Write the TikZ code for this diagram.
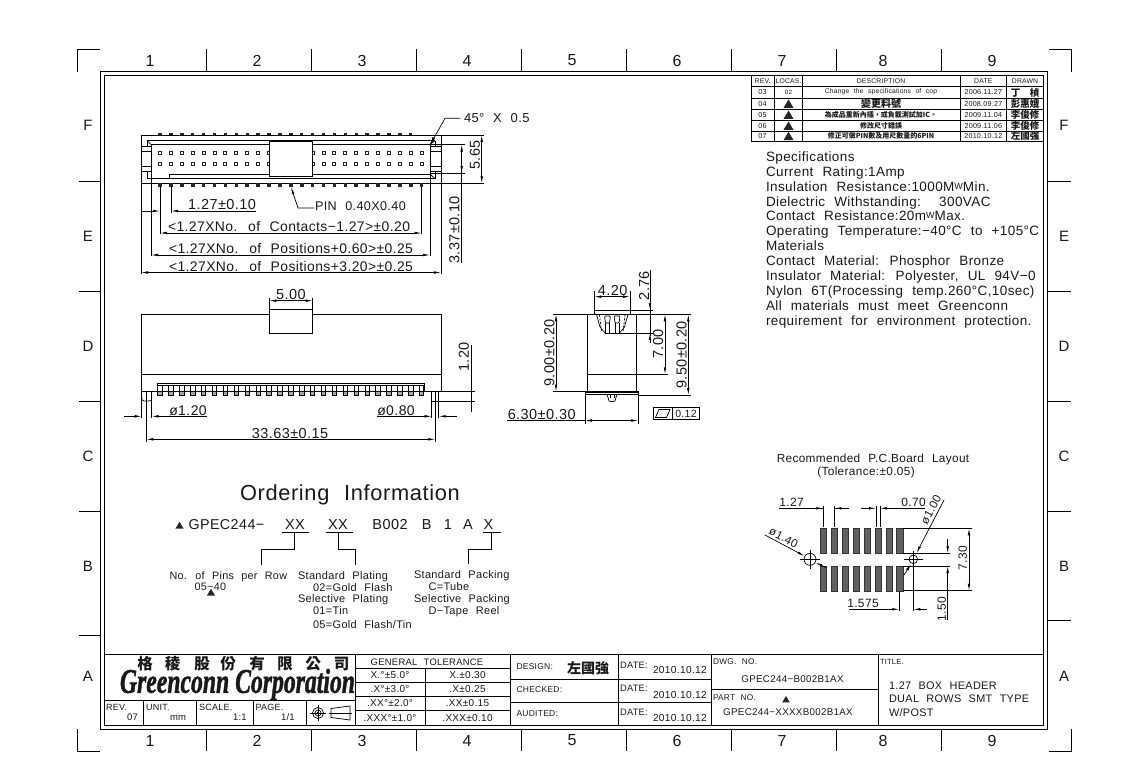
\documentclass[tikz,border=0pt]{standalone}
\usepackage{fontspec}
\usetikzlibrary{arrows.meta}
\setmainfont{Liberation Sans}[LetterSpace=3,WordSpace=2.2]
\newfontfamily\cjk{Noto Sans CJK TC}
\newfontfamily\logofont{Liberation Serif}[BoldItalicFeatures={FakeBold=1.5}]
\newcommand\FS[1]{\fontsize{#1}{#1}\selectfont}
\tikzset{
 tx/.style={inner sep=0pt,outer sep=0pt,text=black!90},
 lft/.style={tx,anchor=west},
 lfb/.style={tx,anchor=base west},
 rot/.style={tx,rotate=90},
 ln/.style={line width=.7pt,black},
 fr/.style={line width=.9pt,black},
 ar/.style={ln,-{Latex[length=7pt,width=2.6pt]}},
 ra/.style={ln,{Latex[length=7pt,width=2.6pt]}-},
 both/.style={ln,{Latex[length=7pt,width=2.6pt]}-{Latex[length=7pt,width=2.6pt]}},
 pad/.style={fill=black!62,draw=black!80,line width=.3pt}
}
\newcommand\Tri[3][6]{\fill[black!85] ({#2-#1*.55},{#3+#1*.42}) -- (#2,{#3-#1*.5}) -- ({#2+#1*.55},{#3+#1*.42}) -- cycle;}
\newcommand\Wsym{\raisebox{2.5pt}{\FS{9}W}}
\begin{document}
\begin{tikzpicture}[x=1pt,y=-1pt]
\useasboundingbox (0,0) rectangle (1124,779);
\fill[white] (0,0) rectangle (1124,779);
% frame
\draw[fr] (100.3,71.7) rectangle (1047,729);
\draw[fr] (104.3,75) rectangle (1043,725);
\draw[fr] (99.5,49.3) -- (77.3,49.3) -- (77.3,71.7);
\draw[fr] (1049,49.3) -- (1071,49.3) -- (1071,71.7);
\draw[fr] (77.3,729) -- (77.3,751) -- (99.5,751);
\draw[fr] (1071,729) -- (1071,751) -- (1049,751);
\foreach \x in {206.7,311.7,416.7,521.7,626.7,731.7,836.7,941.7}{
 \draw[ln] (\x,49.3) -- (\x,71.7); \draw[ln] (\x,729) -- (\x,751);}
\foreach \y in {181,291,401,511,635}{\draw[ln] (79,\y) -- (100.3,\y);}
\foreach \y in {181,291,401,511,620}{\draw[ln] (1047,\y) -- (1071,\y);}
\foreach \n/\x in {1/150,2/257,3/362,4/467,5/572,6/677,7/782,8/883,9/992}{
 \node[tx,font=\FS{16}] at (\x,60.5) {\n}; \node[tx,font=\FS{16}] at (\x,740.5) {\n};}
\foreach \n/\y in {F/125,E/236,D/346,C/456,B/566,A/676}{
 \node[tx,font=\FS{15}] at (88,\y) {\n}; \node[tx,font=\FS{15}] at (1064,\y) {\n};}
% ===== top view
\draw[ln] (141,135) rectangle (441,183.3);
\draw[ln] (147,140.7) -- (435,140.7);
\draw[ln] (151,144.5) -- (430,144.5);
\draw[ln] (151,144.5) -- (151,178.7);
\draw[ln] (430,144.5) -- (430,178.7);
\draw[ln] (147,140.7) -- (147,146.7) (147,171.7) -- (147,178.7) -- (435,178.7) -- (435,171.7) (435,146.7) -- (435,140.7);
\draw[ln] (147,140.7) -- (151,144.5) (435,140.7) -- (430,144.5) (430,174) -- (435,178.7);
\draw[ln] (169,178.7) -- (169,174) -- (430,174);
\foreach \y in {146.7,151.7,166.7,171.7}{\draw[ln] (141,\y) -- (151,\y); \draw[ln] (430,\y) -- (441,\y);}
\foreach \i in {0,...,23}{\fill[black!85] ({160+\i*10.9-1.7},132.7) rectangle ({160+\i*10.9+1.7},135);}
\foreach \i in {0,...,24}{
 \draw[line width=.9pt,black!85] ({160+\i*10.9-1.5},151.6) rectangle ({160+\i*10.9+1.5},154.6);
 \draw[line width=.9pt,black!85] ({160+\i*10.9-1.5},162.6) rectangle ({160+\i*10.9+1.5},165.6);
 \fill[black!85] ({160+\i*10.9-1.8},183.3) rectangle ({160+\i*10.9+1.8},187);}
\draw[ln,fill=white] (269.3,141) rectangle (312.7,176.7);
\draw[line width=1pt] (269.3,141) -- (312.7,141);
% top dims
\draw[ln] (160,187) -- (160,234) (171,187) -- (171,213) (151,178) -- (151,256) (430,178) -- (430,256) (141,183) -- (141,274) (441,183) -- (441,274) (421.6,187) -- (421.6,234);
\draw[ar] (141,211) -- (160,211);
\draw[ar] (256,211) -- (171,211);
\node[tx,font=\FS{14.5}] at (222,205) {1.27±0.10};
\draw[ra] (291,187) -- (298,208) -- (314,208);
\node[lft,font=\FS{12.6}] at (315,206) {PIN 0.40X0.40};
\draw[both] (160,233) -- (421.6,233);
\node[tx,font=\FS{13.9}] at (289,227) {<1.27XNo. of Contacts−1.27>±0.20};
\draw[both] (151,255) -- (430,255);
\node[tx,font=\FS{13.9}] at (291,249) {<1.27XNo. of Positions+0.60>±0.25};
\draw[both] (141,272.5) -- (441,272.5);
\node[tx,font=\FS{13.9}] at (291,266.5) {<1.27XNo. of Positions+3.20>±0.25};
\draw[ln] (441,135) -- (484,135) (441,183.3) -- (484,183.3) (430,144.5) -- (465,144.5) (430,173) -- (465,173);
\draw[both] (481.7,135) -- (481.7,183.3);
\node[rot,font=\FS{14.5}] at (475,155) {5.65};
\draw[ln] (461.7,158) -- (461.7,263);
\draw[both] (461.7,144.5) -- (461.7,173);
\node[rot,font=\FS{14.5}] at (454.5,230) {3.37±0.10};
\draw[ln] (430,145) -- (445,118.3) -- (460,118.3);
\fill[black] (430,145) -- (432.5,137) -- (435,138.5) -- cycle;
\node[lft,font=\FS{13}] at (464,118.5) {45° X 0.5};
% ===== front view
\draw[ln] (141,314.3) rectangle (441,391.7);
\draw[ln] (141,374.3) -- (441,374.3);
\draw[ln] (157.3,391.7) -- (157.3,383.3) -- (424,383.3) -- (424,391.7);
\draw[ln] (157.3,385.7) -- (424,385.7);
\foreach \i in {0,...,24}{
 \draw[ln,fill=white] ({160+\i*10.9-2.2},385.7) rectangle ({160+\i*10.9+2.2},391);
 \draw[ln,fill=black!35] ({160+\i*10.9-2.2},391) rectangle ({160+\i*10.9+2.2},395);}
\draw[ln,fill=white] (269.3,309) rectangle (312.7,333.3);
\draw[ln] (269.3,298) -- (269.3,309) (312.7,298) -- (312.7,309);
\draw[both] (269.3,300.7) -- (312.7,300.7);
\node[tx,font=\FS{14.5}] at (291,295) {5.00};
\draw[ln] (141.7,391.7) -- (141.7,418) (151.7,391.7) -- (151.7,418);
\draw[ln,rounded corners=2.5pt] (141.7,396) -- (141.7,401) -- (151.7,401) -- (151.7,396);
\draw[ln] (431.7,391.7) -- (431.7,418) (438.7,391.7) -- (438.7,418);
\draw[ln] (431.7,401) -- (438.7,401);
\draw[ln] (146.3,391.7) -- (146.3,442) (435.3,391.7) -- (435.3,442);
\draw[ar] (124,416.3) -- (141.7,416.3);
\draw[ar] (207,416.3) -- (151.7,416.3);
\node[tx,font=\FS{14}] at (188,411) {ø1.20};
\draw[ar] (377,416.3) -- (431.7,416.3);
\draw[ar] (456.7,416.3) -- (438.7,416.3);
\node[tx,font=\FS{14}] at (396,410.5) {ø0.80};
\draw[both] (146.3,439.3) -- (435.3,439.3);
\node[tx,font=\FS{14.5}] at (290,433.5) {33.63±0.15};
\draw[ln] (441,391.7) -- (475,391.7) (439,401) -- (475,401);
\draw[ln] (471,345) -- (471,412);
\node[rot,font=\FS{14.5}] at (464,357) {1.20};
% ===== side view
\draw[ln] (587.3,314.3) rectangle (636.7,391.7);
\draw[ln] (587.3,374.3) -- (636.7,374.3);
\draw[ln] (594.3,314.3) -- (594.3,310) -- (653,310) (630,310) -- (630,314.3);
\draw[ln] (596.5,314.3) -- (600,327) -- (605,333);
\draw[ln] (628,314.3) -- (624.5,327) -- (619.5,333);
\draw[ln,dash pattern=on 2pt off 1.5pt] (599.5,315) -- (601.5,332) (625,315) -- (623,332);
\foreach \p in {604.5,614}{\draw[ln,rounded corners=1pt] (\p,316) -- ({\p+6},316) -- ({\p+5},323) -- ({\p+1},323) -- cycle; \draw[ln] ({\p+1},323) -- ({\p+1},333) ({\p+5},323) -- ({\p+5},333);}
\draw[ln] (605,333) -- (620,333);
\draw[ln,fill=white] (585,391.7) rectangle (638.3,394.3);
\draw[line width=1.3pt] (585,392.5) -- (638.3,392.5);
\draw[ln,rounded corners=2pt] (606.5,394.3) -- (608.5,397) -- (608.5,401.5) -- (615.5,401.5) -- (615.5,397) -- (617.5,394.3);
\draw[ln] (610,394.3) -- (610,398) (614,394.3) -- (614,398);
\draw[ln] (594.3,291) -- (594.3,310) (630,291) -- (630,310);
\draw[both] (594.3,296.7) -- (630,296.7);
\node[tx,font=\FS{14.5}] at (612.7,291) {4.20};
\draw[ln] (650,270) -- (650,336);
\draw[ar] (650,300) -- (650,310);
\draw[ar] (650,343) -- (650,333);
\draw[ln] (606,333) -- (653,333);
\node[rot,font=\FS{14.5}] at (644,285.7) {2.76};
\draw[ln] (636.7,314.3) -- (691,314.3) (636.7,374.3) -- (668,374.3) (638,395) -- (691,395);
\draw[both] (665,314.3) -- (665,374.3);
\node[rot,font=\FS{14.5}] at (658,344) {7.00};
\draw[both] (688.3,314.3) -- (688.3,395);
\node[rot,font=\FS{14.5}] at (681.7,355) {9.50±0.20};
\draw[ln] (553,314.3) -- (587.3,314.3) (553,391.7) -- (587.3,391.7);
\draw[both] (556,314.3) -- (556,391.7);
\node[rot,font=\FS{14.5}] at (549.5,353) {9.00±0.20};
\draw[ln] (585,394) -- (585,423.5) (638.3,394) -- (638.3,423.5);
\draw[ln] (507,420.5) -- (585,420.5);
\draw[both] (585,420.5) -- (638.3,420.5);
\node[tx,font=\FS{14.5}] at (541.7,414.5) {6.30±0.30};
\draw[ln] (653.3,407.7) rectangle (699.3,419.3);
\draw[ln] (672.3,407.7) -- (672.3,419.3);
\draw[ln] (655.5,417.5) -- (659,409.5) -- (670,409.5) -- (666.5,417.5) -- cycle;
\node[tx,font=\FS{10.5}] at (686,413.5) {0.12};
% ===== revision table
\draw[ln] (751,75) -- (751,141.7) -- (1043,141.7);
\foreach \y in {86.7,98.3,109.3,120.7,131}{\draw[ln] (751,\y) -- (1043,\y);}
\foreach \x in {774.3,802.7,960,1006.7}{\draw[ln] (\x,75) -- (\x,141.7);}
\foreach \t/\x in {REV./762.6,LOCAS./788.5,DESCRIPTION/881,DATE/983.3,DRAWN/1025}{\node[tx,font=\FS{6.8}] at (\x,81) {\t};}
\foreach \t/\y in {03/92.5,04/104,05/115,06/126,07/136.3}{\node[tx,font=\FS{7.2}] at (762.6,\y) {\t};}
\node[tx,font=\FS{6.2}] at (788.5,92.5) {02};
\foreach \y in {104,115,126,136.3}{\Tri[9]{788.5}{\y}}
\node[tx,font=\FS{6.7}] at (881,92) {Change the specifications of cop};
\node[tx,font=\cjk\bfseries\FS{10}] at (881,103.8) {變更料號};
\node[tx,font=\cjk\bfseries\FS{7}] at (881,115) {為成品重新內插，或負載測試加IC。};
\node[tx,font=\cjk\bfseries\FS{7}] at (881,126) {修改尺寸錯誤};
\node[tx,font=\cjk\bfseries\FS{7}] at (881,136.3) {修正可做PIN數及用尺數量的6PIN};
\foreach \t/\y in {2006.11.27/92.5,2008.09.27/103.8,2009.11.04/115,2009.11.06/126,2010.10.12/136.3}{\node[tx,font=\FS{7.2}] at (983.3,\y) {\t};}
\foreach \t/\y in {丁　楨/92.5,彭惠娥/103.8,李俊修/115,李俊修/126,左國強/136.3}{\node[tx,font=\cjk\bfseries\FS{9.5}] at (1025,\y) {\t};}
% ===== specifications
\foreach \t/\y in {Specifications/157,{Current Rating:1Amp}/172,{Insulation Resistance:1000M\Wsym Min.}/187,{Dielectric Withstanding:\ \ 300VAC}/201.5,{Contact Resistance:20m\Wsym Max.}/216,{Operating Temperature:−40°C to +105°C}/231,Materials/245.5,{Contact Material: Phosphor Bronze}/260.5,{Insulator Material: Polyester, UL 94V−0}/275.5,{Nylon 6T(Processing temp.260°C,10sec)}/290.5,{All materials must meet Greenconn}/306,{requirement for environment protection.}/320.5}{
 \node[lfb,font=\FS{13.5},yshift=-4.8pt] at (766,\y) {\t};}
% ===== PCB layout
\node[tx,font=\FS{11.8}] at (873,459.5) {Recommended P.C.Board Layout};
\node[tx,font=\FS{11.8}] at (866,472) {(Tolerance:±0.05)};
\foreach \i in {0,...,7}{
 \fill[pad] ({820.3+\i*10.9},528.3) rectangle ({826.6+\i*10.9},553.3);
 \fill[pad] ({820.3+\i*10.9},566) rectangle ({826.6+\i*10.9},590.7);}
\draw[ln] (810,559.3) circle (6);
\draw[ln] (800,559.3) -- (820,559.3) (810,549.5) -- (810,569);
\draw[ln] (913.3,559.3) circle (4.3);
\draw[ln] (904,559.3) -- (923,559.3) (913.3,551) -- (913.3,568);
\draw[ln] (779.3,508.3) -- (823.3,508.3) (834.3,508.3) -- (849,508.3);
\draw[ar] (815,508.3) -- (823.3,508.3);
\draw[ar] (842,508.3) -- (834.3,508.3);
\draw[ln] (823.3,505.5) -- (823.3,527) (834.3,505.5) -- (834.3,527);
\node[tx,font=\FS{12}] at (791.5,502.5) {1.27};
\draw[ln] (876,505.5) -- (876,527) (880,505.5) -- (880,527);
\draw[ar] (861,508.3) -- (876,508.3);
\draw[ar] (925,508.3) -- (880,508.3);
\node[tx,font=\FS{12}] at (913.5,502) {0.70};
\draw[ar] (944,500) -- (916.5,553);
\draw[ar] (904,575) -- (911,564);
\node[tx,font=\FS{11.5},rotate=62] at (931,510) {ø1.00};
\draw[ar] (765,535) -- (804.5,556);
\draw[ar] (827,568) -- (815.5,562.5);
\node[tx,font=\FS{11.5},rotate=-28] at (783.5,537.5) {ø1.40};
\draw[ln] (903,528.3) -- (972,528.3) (903,590.7) -- (972,590.7);
\draw[both] (969,528.3) -- (969,590.7);
\node[rot,font=\FS{12}] at (962.7,558) {7.30};
\draw[ln] (903,553.3) -- (950,553.3) (903,566) -- (950,566);
\draw[ar] (947.7,539) -- (947.7,553.3);
\draw[ar] (947.7,620) -- (947.7,566);
\node[rot,font=\FS{12}] at (941.7,609) {1.50};
\draw[ln] (899.3,592) -- (899.3,611) (913.3,565) -- (913.3,611);
\draw[ar] (849,609.3) -- (899.3,609.3);
\draw[ar] (926.7,609.3) -- (913.3,609.3);
\node[tx,font=\FS{12}] at (863,603.5) {1.575};
% ===== ordering
\node[lfb,font=\FS{21.8},yshift=-7.5pt] at (240,493) {Ordering Information};
\Tri[7.5]{179.5}{525.5}
\node[lft,font=\FS{14.3}] at (188.5,525) {GPEC244−};
\foreach \t/\x in {XX/295,XX/338,B002/390,B/426.7,1/448,A/468,X/488.5}{\node[tx,font=\FS{14.5}] at (\x,525) {\t};}
\draw[ln] (281.7,532.7) -- (309,532.7) (325.7,532.7) -- (353.3,532.7) (482.7,532.7) -- (500.7,532.7);
\draw[ln] (294.3,532.7) -- (294.3,549) -- (261,549) -- (261,565);
\draw[ln] (338.7,532.7) -- (338.7,549.5) -- (355.3,549.5) -- (355.3,565);
\draw[ln] (491,532.7) -- (491,549) -- (468.3,549) -- (468.3,564);
\node[lfb,font=\FS{10.8},yshift=-3.9pt] at (169.5,575.5) {No. of Pins per Row};
\node[lfb,font=\FS{10.8},yshift=-3.9pt] at (194.5,586.5) {05\textasciitilde 40};
\Tri[7.5]{211}{592.5}
\foreach \t/\x/\y in {{Standard Plating}/298/575.5,{02=Gold Flash}/313/587.5,{Selective Plating}/298/599,{01=Tin}/313/611,{05=Gold Flash/Tin}/313/624.5,{Standard Packing}/414/575,{C=Tube}/428.5/586.5,{Selective Packing}/414/599,{D−Tape Reel}/428.5/611}{
 \node[lfb,font=\FS{11},yshift=-3.9pt] at (\x,\y) {\t};}
% ===== title block
\draw[fr] (104.3,654.7) -- (1043,654.7);
\draw[ln] (104.3,700) -- (355,700);
\foreach \x in {143.3,196.7,253.3,306.7}{\draw[ln] (\x,700) -- (\x,725);}
\draw[ln] (355,654.7) -- (355,725) (425,668.3) -- (425,725) (510,654.7) -- (510,725) (618,654.7) -- (618,725) (711,654.7) -- (711,725) (878,654.7) -- (878,725);
\foreach \y in {668.3,682.3,696.7,710}{\draw[ln] (355,\y) -- (510,\y);}
\foreach \y in {679,702}{\draw[ln] (510,\y) -- (711,\y);}
\draw[ln] (711,689.5) -- (878,689.5);
\foreach \t/\x in {格/145,稜/172.7,股/202,份/228,有/257,限/285,公/313,司/341.7}{\node[tx,font=\cjk\bfseries\FS{15.5}] at (\x,664) {\t};}
\node[tx,anchor=west] at (120,684.5) {\resizebox{235pt}{24pt}{\logofont\bfseries\itshape Greenconn Corporation}};
\node[lft,font=\FS{9}] at (106,707) {REV.}; \node[lft,font=\FS{9.5}] at (127,717.5) {07};
\node[lft,font=\FS{9}] at (146,707) {UNIT.}; \node[lft,font=\FS{9.5}] at (170,717.5) {mm};
\node[lft,font=\FS{9}] at (199,707) {SCALE.}; \node[lft,font=\FS{9.5}] at (233,717.5) {1:1};
\node[lft,font=\FS{9}] at (255.5,707) {PAGE.}; \node[lft,font=\FS{9.5}] at (281,717.5) {1/1};
\draw[ln] (318,713) circle (5.5); \draw[ln] (318,713) circle (3); \fill (318,713) circle (1.3);
\draw[ln] (310,713) -- (326,713) (318,705) -- (318,721);
\draw[ln] (331,708.5) -- (350,706) -- (350,720) -- (331,717.5) -- cycle;
\draw[ln] (329,713) -- (352,713);
\node[tx,font=\FS{9.4}] at (427,662) {GENERAL TOLERANCE};
\foreach \a/\b/\y in {X.°±5.0°/X.±0.30/675.5,.X°±3.0°/.X±0.25/689,.XX°±2.0°/.XX±0.15/703.5,.XXX°±1.0°/.XXX±0.10/718}{
 \node[tx,font=\FS{10}] at (390,\y) {\a}; \node[tx,font=\FS{10}] at (467.5,\y) {\b};}
\node[lft,font=\FS{8.5}] at (516.5,666.5) {DESIGN:};
\node[tx,font=\cjk\bfseries\FS{14}] at (588,668) {左國強};
\node[lft,font=\FS{8.5}] at (516.5,689.5) {CHECKED:};
\node[lft,font=\FS{8.5}] at (516.5,714) {AUDITED:};
\foreach \y/\d in {665/670,688.5/694.5,712/718}{
 \node[lft,font=\FS{9.3}] at (620,\y) {DATE:};
 \node[lft,font=\FS{10.2}] at (653,\d) {2010.10.12};}
\node[lft,font=\FS{8.3}] at (713,661.5) {DWG. NO.};
\node[tx,font=\FS{9.8}] at (792.5,679.5) {GPEC244−B002B1AX};
\node[lft,font=\FS{8.3}] at (713,697.5) {PART NO.};
\Tri[7]{786}{699.5}
\node[tx,font=\FS{9.8}] at (788,712) {GPEC244−XXXXB002B1AX};
\node[lft,font=\FS{7.5}] at (880,662) {TITLE.};
\foreach \t/\y in {{1.27 BOX HEADER}/685.5,{DUAL ROWS SMT TYPE}/699,{W/POST}/713}{\node[lft,font=\FS{10.9}] at (889,\y) {\t};}
\end{tikzpicture}
\end{document}
